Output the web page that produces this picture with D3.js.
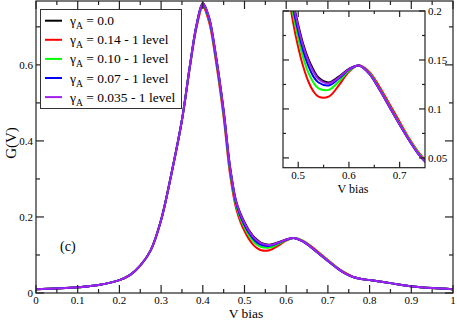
<!DOCTYPE html>
<html>
<head>
<meta charset="utf-8">
<script src="https://cdn.jsdelivr.net/npm/d3@7"></script>
<style>
  body { margin: 0; background: #fff; }
  svg { display: block; }
  svg text { font-family: "Liberation Serif", "Times New Roman", Times, "DejaVu Serif", serif; }
</style>
</head>
<body>
<div id="chart"></div>
<script>
const width = 457
const height = 321

// datos
const vBias = [0, 0.05, 0.1, 0.15, 0.2, 0.225, 0.25, 0.275, 0.3, 0.325, 0.35, 0.37, 0.385, 0.4, 0.415, 0.43, 0.45, 0.465, 0.48, 0.49, 0.5, 0.51, 0.52, 0.53, 0.54, 0.56, 0.58, 0.6, 0.62, 0.64, 0.66, 0.68, 0.7, 0.72, 0.74, 0.76, 0.78, 0.8, 0.85, 0.9, 0.95, 1.0]
const gBlack  = [0.010, 0.012, 0.015, 0.021, 0.034, 0.047, 0.072, 0.112, 0.192, 0.315, 0.455, 0.605, 0.705, 0.763, 0.725, 0.635, 0.480, 0.335, 0.241, 0.210, 0.186, 0.166, 0.151, 0.140, 0.132, 0.127, 0.133, 0.141, 0.1443, 0.136, 0.120, 0.102, 0.084, 0.067, 0.052, 0.042, 0.037, 0.034, 0.026, 0.018, 0.013, 0.010]
const gRed    = [0.010, 0.012, 0.015, 0.021, 0.034, 0.047, 0.072, 0.112, 0.192, 0.315, 0.455, 0.600, 0.698, 0.753, 0.713, 0.620, 0.462, 0.315, 0.222, 0.188, 0.163, 0.143, 0.128, 0.118, 0.1125, 0.1125, 0.124, 0.138, 0.1445, 0.138, 0.123, 0.105, 0.087, 0.069, 0.054, 0.043, 0.037, 0.034, 0.026, 0.018, 0.013, 0.010]
const gGreen  = [0.010, 0.012, 0.015, 0.021, 0.034, 0.047, 0.072, 0.112, 0.192, 0.315, 0.455, 0.603, 0.702, 0.758, 0.719, 0.627, 0.470, 0.324, 0.230, 0.197, 0.172, 0.152, 0.137, 0.127, 0.121, 0.1195, 0.128, 0.139, 0.1444, 0.137, 0.121, 0.103, 0.085, 0.068, 0.053, 0.042, 0.037, 0.034, 0.026, 0.018, 0.013, 0.010]
const gBlue   = [0.010, 0.012, 0.015, 0.021, 0.034, 0.047, 0.072, 0.112, 0.192, 0.315, 0.455, 0.604, 0.704, 0.761, 0.722, 0.631, 0.475, 0.330, 0.236, 0.203, 0.179, 0.159, 0.144, 0.133, 0.127, 0.124, 0.131, 0.140, 0.1443, 0.136, 0.120, 0.102, 0.084, 0.067, 0.052, 0.042, 0.037, 0.034, 0.026, 0.018, 0.013, 0.010]
const gPurple = [0.010, 0.012, 0.015, 0.021, 0.034, 0.047, 0.072, 0.112, 0.192, 0.315, 0.455, 0.605, 0.705, 0.762, 0.724, 0.634, 0.478, 0.333, 0.240, 0.208, 0.184, 0.164, 0.149, 0.138, 0.1305, 0.126, 0.132, 0.1405, 0.1443, 0.136, 0.120, 0.102, 0.084, 0.067, 0.052, 0.042, 0.037, 0.034, 0.026, 0.018, 0.013, 0.010]

const seriesLabels = ["0.0", "0.14 - 1 level", "0.10 - 1 level", "0.07 - 1 level", "0.035 - 1 level"]
const seriesValues = [gBlack, gRed, gGreen, gBlue, gPurple]
const colors = ["#000000", "#ff0000", "#00ff00", "#0000ff", "#a020f0"]

const xTicks = [0, 0.1, 0.2, 0.3, 0.4, 0.5, 0.6, 0.7, 0.8, 0.9, 1]
const xTickLabels = ["0", "0.1", "0.2", "0.3", "0.4", "0.5", "0.6", "0.7", "0.8", "0.9", "1"]
const yTicks = [0, 0.2, 0.4, 0.6]
const yTickLabels = ["0", "0.2", "0.4", "0.6"]
const insetXTicks = [0.5, 0.6, 0.7]
const insetXTickLabels = ["0.5", "0.6", "0.7"]
const insetYTicks = [0.05, 0.1, 0.15, 0.2]
const insetYTickLabels = ["0.05", "0.1", "0.15", "0.2"]

const series = seriesValues.map((vals, i) => ({
    label: seriesLabels[i],
    color: colors[i],
    points: vBias.map((v, j) => ({v: v, g: vals[j]}))
}))

const svg = d3.select("#chart").append("svg")
    .attr("width", width).attr("height", height)

// escalas principales
const x = d3.scaleLinear().domain([0, 1]).range([36, 453])
const y = d3.scaleLinear().domain([0, 0.768]).range([293, 1])

const defs = svg.append("defs")
defs.append("clipPath").attr("id", "clipMain").append("rect")
    .attr("x", 36).attr("y", 1).attr("width", 417).attr("height", 292)

const line = d3.line().x(d => x(d.v)).y(d => y(d.g)).curve(d3.curveCatmullRom.alpha(0.5))

svg.append("g").attr("clip-path", "url(#clipMain)")
    .selectAll("path").data(series).join("path")
    .attr("d", d => line(d.points))
    .attr("fill", "none")
    .attr("stroke", d => d.color)
    .attr("stroke-width", 2)

// marco y ticks hacia dentro
function frame(g, xs, ys, major, minor, xMajor, xMinor, yMajor, yMinor, xLabels, yLabels, yRight, fs) {
    const [x0, x1] = xs.range()
    const [y0, y1] = ys.range()
    g.append("rect").attr("x", x0).attr("y", y1).attr("width", x1 - x0).attr("height", y0 - y1)
        .attr("fill", "none").attr("stroke", "#222").attr("stroke-width", 1.2)
    const tick = (x1_, y1_, x2_, y2_) => g.append("line")
        .attr("x1", x1_).attr("y1", y1_).attr("x2", x2_).attr("y2", y2_)
        .attr("stroke", "#222").attr("stroke-width", 1.2)
    xMajor.forEach(v => { tick(xs(v), y0, xs(v), y0 - major); tick(xs(v), y1, xs(v), y1 + major) })
    xMinor.forEach(v => { tick(xs(v), y0, xs(v), y0 - minor); tick(xs(v), y1, xs(v), y1 + minor) })
    yMajor.forEach(v => { tick(x0, ys(v), x0 + major, ys(v)); tick(x1, ys(v), x1 - major, ys(v)) })
    yMinor.forEach(v => { tick(x0, ys(v), x0 + minor, ys(v)); tick(x1, ys(v), x1 - minor, ys(v)) })
    g.selectAll("text.xl").data(xMajor).join("text").attr("class", "xl")
        .attr("x", d => xs(d)).attr("y", y0 + fs)
        .attr("text-anchor", "middle").attr("font-size", fs)
        .text((d, i) => xLabels[i])
    g.selectAll("text.yl").data(yMajor).join("text").attr("class", "yl")
        .attr("x", yRight ? x1 + 3 : x0 - 3).attr("y", d => ys(d) + fs * 0.35)
        .attr("text-anchor", yRight ? "start" : "end").attr("font-size", fs)
        .text((d, i) => yLabels[i])
}

const mainG = svg.append("g")
frame(mainG, x, y, 8, 4,
    xTicks, d3.range(0.05, 1, 0.1),
    yTicks, [0.1, 0.3, 0.5, 0.7],
    xTickLabels, yTickLabels, false, 11)

svg.append("text").attr("x", 246).attr("y", 317.5).attr("text-anchor", "middle")
    .attr("font-size", 13.5).text("V bias")
svg.append("text").attr("transform", "translate(16,143) rotate(-90)").attr("text-anchor", "middle")
    .attr("font-size", 15).text("G(V)")
svg.append("text").attr("x", 60).attr("y", 251).attr("font-size", 14).text("(c)")

// leyenda
const legend = svg.append("g")
legend.append("rect").attr("x", 40.5).attr("y", 9.5).attr("width", 141).attr("height", 99)
    .attr("fill", "#fff").attr("stroke", "#333").attr("stroke-width", 1)
const items = legend.selectAll("g.item").data(series).join("g").attr("class", "item")
    .attr("transform", (d, i) => `translate(0, ${20.7 + i * 19.1})`)
items.append("line").attr("x1", 45).attr("x2", 62).attr("stroke", d => d.color).attr("stroke-width", 2)
const txt = items.append("text").attr("x", 70).attr("y", 4.5).attr("font-size", 13.5)
txt.append("tspan").text("γ")
txt.append("tspan").attr("font-size", 9.5).attr("dy", 4).text("A")
txt.append("tspan").attr("dy", -4).text(d => " = " + d.label)

// recuadro interior
const xi = d3.scaleLinear().domain([0.47, 0.75]).range([283, 425])
const yi = d3.scaleLinear().domain([0.04, 0.2]).range([167.7, 11])
defs.append("clipPath").attr("id", "clipInset").append("rect")
    .attr("x", 283).attr("y", 11).attr("width", 142).attr("height", 156.7)
const inset = svg.append("g")
inset.append("rect").attr("x", 283).attr("y", 11).attr("width", 142).attr("height", 156.7).attr("fill", "#fff")
const lineInset = d3.line().x(d => xi(d.v)).y(d => yi(d.g)).curve(d3.curveCatmullRom.alpha(0.5))
inset.append("g").attr("clip-path", "url(#clipInset)")
    .selectAll("path").data(series).join("path")
    .attr("d", d => lineInset(d.points))
    .attr("fill", "none")
    .attr("stroke", d => d.color)
    .attr("stroke-width", 2)
frame(inset, xi, yi, 6, 3,
    insetXTicks, [0.55, 0.65],
    insetYTicks, [0.075, 0.125, 0.175],
    insetXTickLabels, insetYTickLabels, true, 11)
inset.append("text").attr("x", 353).attr("y", 193).attr("text-anchor", "middle")
    .attr("font-size", 12).text("V bias")
</script>
</body>
</html>
